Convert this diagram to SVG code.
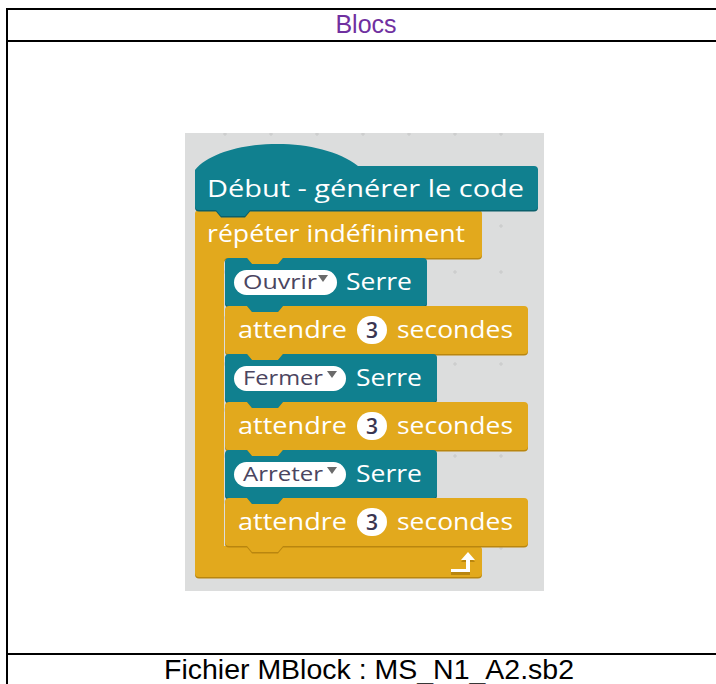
<svg xmlns="http://www.w3.org/2000/svg" width="716" height="684" viewBox="0 0 716 684">
  <style>
    .frame { stroke: #000; stroke-width: 2; fill: none; }
    .title { font-family: "Liberation Sans", Arial, sans-serif; font-size: 25px; fill: #7030a0; }
    .caption { font-family: "Liberation Sans", Arial, sans-serif; font-size: 27px; fill: #000; }
    .teal { fill: #10808f; }
    .orange { fill: #e2a91d; }
    .teal-sh { fill: #0a5f6b; }
    .orange-sh { fill: #b9860f; }
    .lbl { font-family: "Open Sans", "Noto Sans", sans-serif; font-size: 24px; fill: #ffffff; }
    .pill { fill: #ffffff; }
    .pilltxt { font-family: "Open Sans", "Noto Sans", sans-serif; font-size: 20px; fill: #4b4560; }
    .num { font-family: "Open Sans", "Noto Sans", sans-serif; font-size: 21px; font-weight: 600; fill: #3a3550; }
    .tri { fill: #6a6a6a; }
    .grid { stroke: #c8c9c9; stroke-width: 1; }
  </style>
  <defs>
    <pattern id="dots" x="0" y="0" width="46" height="46" patternUnits="userSpaceOnUse" patternTransform="translate(202 111)">
      <path class="grid" d="M21,23 h4 M23,21 v4"/>
    </pattern>
    <!-- stack block: 48 tall, notch on top, tab below -->
    <path id="sOuvrir" d="M225,262 Q225,258 229,258 L247,258 L252,264 L278,264 L283,258 L423,258 Q427,258 427,262 L427,302 Q427,306 423,306 L283,306 L278,312 L252,312 L247,306 L229,306 Q225,306 225,302 Z"/>
    <path id="sWait1" d="M225,310 Q225,306 229,306 L247,306 L252,312 L278,312 L283,306 L524,306 Q528,306 528,310 L528,350 Q528,354 524,354 L283,354 L278,360 L252,360 L247,354 L229,354 Q225,354 225,350 Z"/>
    <path id="sFermer" d="M225,358 Q225,354 229,354 L247,354 L252,360 L278,360 L283,354 L433,354 Q437,354 437,358 L437,398 Q437,402 433,402 L283,402 L278,408 L252,408 L247,402 L229,402 Q225,402 225,398 Z"/>
    <path id="sWait2" d="M225,406 Q225,402 229,402 L247,402 L252,408 L278,408 L283,402 L524,402 Q528,402 528,406 L528,446 Q528,450 524,450 L283,450 L278,456 L252,456 L247,450 L229,450 Q225,450 225,446 Z"/>
    <path id="sArreter" d="M225,454 Q225,450 229,450 L247,450 L252,456 L278,456 L283,450 L433,450 Q437,450 437,454 L437,494 Q437,498 433,498 L283,498 L278,504 L252,504 L247,498 L229,498 Q225,498 225,494 Z"/>
    <path id="sWait3" d="M225,502 Q225,498 229,498 L247,498 L252,504 L278,504 L283,498 L524,498 Q528,498 528,502 L528,542 Q528,546 524,546 L283,546 L278,552 L252,552 L247,546 L229,546 Q225,546 225,542 Z"/>
    <path id="sHat" d="M195,170 C222,138 318,134 358,166 L534,166 Q538,166 538,170 L538,206 Q538,210 534,210 L250,210 L245,216 L221,216 L216,210 L199,210 Q195,210 195,206 Z"/>
    <path id="sLoop" d="M199,210 L478,210 Q482,210 482,214 L482,254 Q482,258 478,258 L283,258 L278,264 L252,264 L247,258 L228,258 Q224,258 224,262 L224,546 L478,546 Q482,546 482,550 L482,573 Q482,577 478,577 L199,577 Q195,577 195,573 L195,214 Q195,210 199,210 Z"/>
  </defs>

  <!-- table frame -->
  <g id="frame">
    <line class="frame" x1="7" y1="9" x2="7" y2="684"/>
    <line class="frame" x1="6" y1="9" x2="716" y2="9"/>
    <line class="frame" x1="6" y1="41" x2="716" y2="41"/>
    <line class="frame" x1="6" y1="654" x2="716" y2="654"/>
    <text class="title" x="366" y="33" text-anchor="middle">Blocs</text>
    <text class="caption" x="164" y="679" textLength="410" lengthAdjust="spacingAndGlyphs">Fichier MBlock : MS_N1_A2.sb2</text>
  </g>

  <!-- scripting area -->
  <g id="canvas">
    <rect x="185" y="133" width="359" height="458" fill="#dcdddd"/>
    <rect x="185" y="133" width="359" height="458" fill="url(#dots)"/>
  </g>

  <!-- forever loop -->
  <g id="loop">
    <use href="#sLoop" class="orange-sh" transform="translate(0 1.5)"/>
    <use href="#sLoop" class="orange"/>
    <text class="lbl" x="207" y="242" textLength="258" lengthAdjust="spacingAndGlyphs">répéter indéfiniment</text>
    <!-- return arrow -->
    <path d="M451,570 L466,570 L466,561 L461,561 L468,553 L475,561 L470,561 L470,574 L451,574 Z" fill="#b9860f" transform="translate(0 1)"/>
    <path d="M451,569 L466,569 L466,560 L461,560 L468,552 L475,560 L470,560 L470,572 L451,572 Z" fill="#ffffff"/>
  </g>

  <!-- hat block -->
  <g id="start">
    <use href="#sHat" class="teal-sh" transform="translate(0 1.5)"/>
    <use href="#sHat" class="teal"/>
    <text class="lbl" x="207" y="197" textLength="317" lengthAdjust="spacingAndGlyphs">Début - générer le code</text>
  </g>

  <g id="ouvrir">
    <use href="#sOuvrir" class="teal-sh" transform="translate(0 1.5)"/>
    <use href="#sOuvrir" class="teal"/>
    <rect class="pill" x="234" y="270" width="103" height="25" rx="12.5"/>
    <text class="pilltxt" x="243" y="289" textLength="74" lengthAdjust="spacingAndGlyphs">Ouvrir</text>
    <path class="tri" d="M318,275 L328,275 L323,282 Z"/>
    <text class="lbl" x="346" y="290" textLength="66" lengthAdjust="spacingAndGlyphs">Serre</text>
  </g>

  <g id="wait1">
    <use href="#sWait1" class="orange-sh" transform="translate(0 1.5)"/>
    <use href="#sWait1" class="orange"/>
    <text class="lbl" x="238" y="338" textLength="109" lengthAdjust="spacingAndGlyphs">attendre</text>
    <rect class="pill" x="357" y="316" width="30" height="28" rx="14"/>
    <text class="num" x="372" y="338" text-anchor="middle">3</text>
    <text class="lbl" x="397" y="338" textLength="116" lengthAdjust="spacingAndGlyphs">secondes</text>
  </g>

  <g id="fermer">
    <use href="#sFermer" class="teal-sh" transform="translate(0 1.5)"/>
    <use href="#sFermer" class="teal"/>
    <rect class="pill" x="234" y="366" width="112" height="25" rx="12.5"/>
    <text class="pilltxt" x="243" y="385" textLength="80" lengthAdjust="spacingAndGlyphs">Fermer</text>
    <path class="tri" d="M327,371 L337,371 L332,378 Z"/>
    <text class="lbl" x="356" y="386" textLength="66" lengthAdjust="spacingAndGlyphs">Serre</text>
  </g>

  <g id="wait2">
    <use href="#sWait2" class="orange-sh" transform="translate(0 1.5)"/>
    <use href="#sWait2" class="orange"/>
    <text class="lbl" x="238" y="434" textLength="109" lengthAdjust="spacingAndGlyphs">attendre</text>
    <rect class="pill" x="357" y="412" width="30" height="28" rx="14"/>
    <text class="num" x="372" y="434" text-anchor="middle">3</text>
    <text class="lbl" x="397" y="434" textLength="116" lengthAdjust="spacingAndGlyphs">secondes</text>
  </g>

  <g id="arreter">
    <use href="#sArreter" class="teal-sh" transform="translate(0 1.5)"/>
    <use href="#sArreter" class="teal"/>
    <rect class="pill" x="234" y="462" width="112" height="25" rx="12.5"/>
    <text class="pilltxt" x="243" y="481" textLength="80" lengthAdjust="spacingAndGlyphs">Arreter</text>
    <path class="tri" d="M327,467 L337,467 L332,474 Z"/>
    <text class="lbl" x="356" y="482" textLength="66" lengthAdjust="spacingAndGlyphs">Serre</text>
  </g>

  <g id="wait3">
    <use href="#sWait3" class="orange-sh" transform="translate(0 1.5)"/>
    <use href="#sWait3" class="orange"/>
    <text class="lbl" x="238" y="530" textLength="109" lengthAdjust="spacingAndGlyphs">attendre</text>
    <rect class="pill" x="357" y="508" width="30" height="28" rx="14"/>
    <text class="num" x="372" y="530" text-anchor="middle">3</text>
    <text class="lbl" x="397" y="530" textLength="116" lengthAdjust="spacingAndGlyphs">secondes</text>
  </g>
</svg>
